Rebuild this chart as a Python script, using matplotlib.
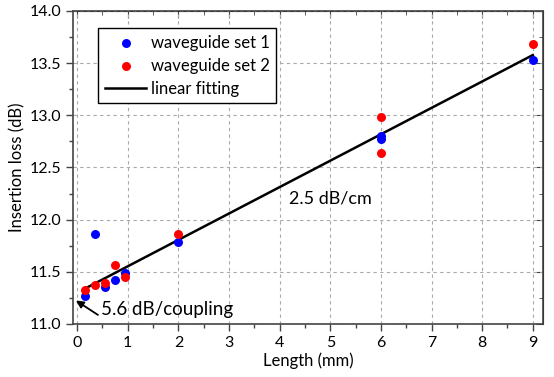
import matplotlib
matplotlib.use("Agg")
import matplotlib.pyplot as plt
import numpy as np

plt.rcParams['font.family'] = ['Lato', 'DejaVu Sans']

# Data
set1_x = [0.15, 0.35, 0.55, 0.75, 0.95, 2, 6, 6, 9]
set1_y = [11.27, 11.86, 11.35, 11.42, 11.49, 11.79, 12.80, 12.77, 13.53]
set2_x = [0.15, 0.35, 0.55, 0.75, 0.95, 2, 6, 6, 9]
set2_y = [11.33, 11.37, 11.39, 11.57, 11.45, 11.86, 12.98, 12.64, 13.68]
fit_slope = 0.253
fit_intercept = 11.30
fit_range = [0.15, 9.0]

fig = plt.figure(figsize=(5.54, 3.77), dpi=100)
ax = fig.add_axes([0.132, 0.1406, 0.848, 0.8304])

fx = np.array(fit_range)
ax.plot(fx, fit_intercept + fit_slope * fx, color='black', lw=1.8, zorder=2, label='linear fitting')
ax.scatter(set1_x, set1_y, s=42, color='#0000FF', zorder=3, label='waveguide set 1', linewidths=0)
ax.scatter(set2_x, set2_y, s=42, color='#FF0000', zorder=4, label='waveguide set 2', linewidths=0)

ax.set_xlim(-0.08, 9.2)
ax.set_ylim(11.0, 14.0)
ax.set_xticks(range(0, 10))
ax.set_yticks([11.0, 11.5, 12.0, 12.5, 13.0, 13.5, 14.0])
ax.set_yticklabels(['11.0', '11.5', '12.0', '12.5', '13.0', '13.5', '14.0'])
ax.set_xticks(np.arange(0.5, 9.1, 1.0), minor=True)
ax.set_yticks(np.arange(11.25, 14.0, 0.5), minor=True)
ax.tick_params(which='major', direction='out', length=5, width=1, color='#444444', labelsize=11.5)
ax.tick_params(which='minor', direction='out', length=3, width=1, color='#444444')
ax.grid(True, which='major', linestyle=(0, (3, 3)), color='#aaaaaa', lw=0.8)
for s in ax.spines.values():
    s.set_color('#444444')
    s.set_linewidth(1.2)

sx = ax.secondary_xaxis('top')
sx.set_xticks(range(0, 10))
sx.set_xticks(np.arange(0.5, 9.1, 1.0), minor=True)
sx.tick_params(which='both', direction='in', labeltop=False, color='#444444')
sx.tick_params(which='major', length=5)
sx.tick_params(which='minor', length=3)
sy = ax.secondary_yaxis('right')
sy.set_yticks([11.0, 11.5, 12.0, 12.5, 13.0, 13.5, 14.0])
sy.set_yticks(np.arange(11.25, 14.0, 0.5), minor=True)
sy.tick_params(which='both', direction='in', labelright=False, color='#444444')
sy.tick_params(which='major', length=5)
sy.tick_params(which='minor', length=3)

ax.set_xlabel('Length (mm)', fontsize=12, labelpad=2)
ax.set_ylabel('Insertion loss (dB)', fontsize=12, labelpad=3)

ax.text(4.18, 12.2, '2.5 dB/cm', fontsize=13, va='center', ha='left')
ax.text(0.48, 11.135, '5.6 dB/coupling', fontsize=13.5, va='center', ha='left')
ax.annotate('', xy=(-0.025, 11.225), xytext=(0.41, 11.087),
            arrowprops=dict(arrowstyle='-|>', color='black', lw=1.3,
                            shrinkA=0, shrinkB=0, mutation_scale=11))

h, l = ax.get_legend_handles_labels()
order = [1, 2, 0]
leg = ax.legend([h[i] for i in order], [l[i] for i in order],
                loc='upper left', bbox_to_anchor=(0.053, 0.945), borderaxespad=0,
                fancybox=False, edgecolor='black', framealpha=1, fontsize=12,
                handlelength=2.5, handletextpad=0.25, labelspacing=0.42,
                borderpad=0.4)
leg.get_frame().set_linewidth(1.0)

fig.savefig('out.png', dpi=100)
